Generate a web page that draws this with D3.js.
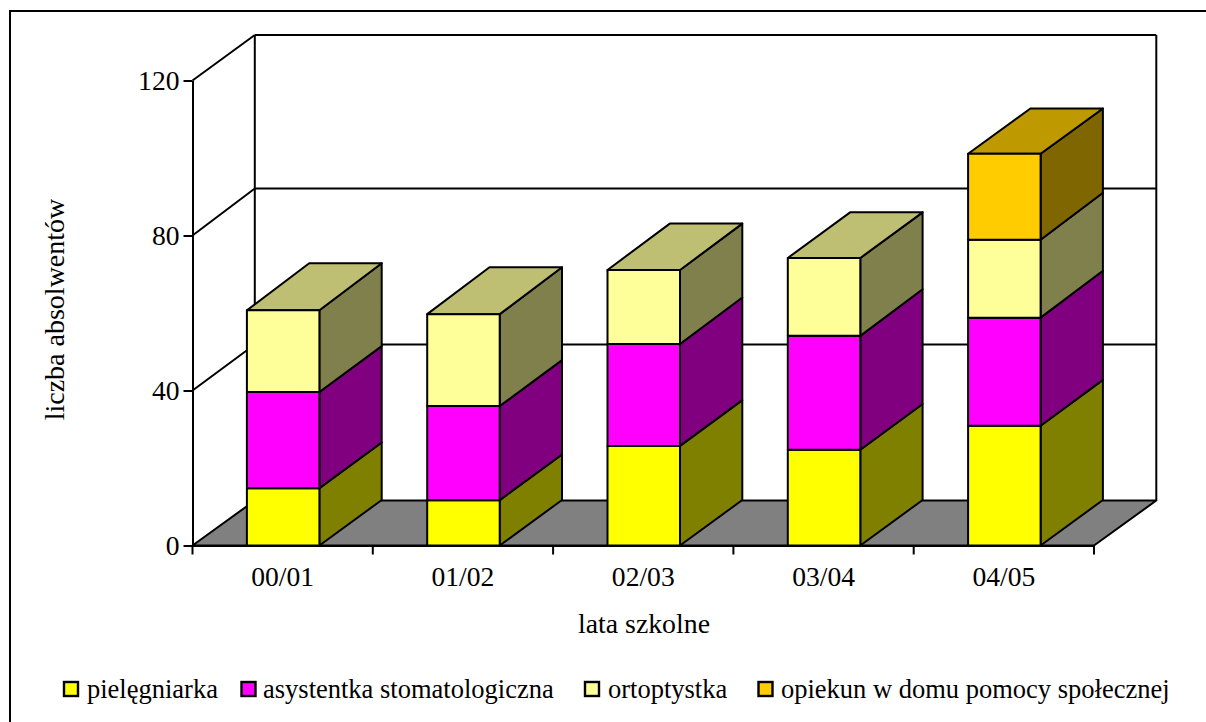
<!DOCTYPE html>
<html><head><meta charset="utf-8">
<style>html,body{margin:0;padding:0;background:#fff;overflow:hidden}svg{display:block}text{font-family:"Liberation Serif",serif;fill:#000}</style>
<script src="https://cdn.jsdelivr.net/npm/d3@7"></script></head><body>
<script>
const categories=["00/01","01/02","02/03","03/04","04/05"];
const seriesNames=["pielęgniarka","asystentka stomatologiczna","ortoptystka","opiekun w domu pomocy społecznej"];
const pielegniarka=[14.8,11.7,25.7,24.7,30.9];
const asystentka=[24.8,24.3,26.3,29.4,27.9];
const ortoptystka=[21.1,23.7,19.1,20.1,20.1];
const opiekun=[0,0,0,0,22.2];
const seriesValues=[pielegniarka,asystentka,ortoptystka,opiekun];
const frontColors=["#ffff00","#ff00ff","#ffff99","#ffcc00"];
const sideColors=["#808000","#800080","#80804d","#806600"];
const topColors=["#bfbf00","#bf00bf","#bfbf73","#bf9900"];
const yTicks=[0,40,80,120];
const W=1206,H=722,dx=62.3;
const sw=2;
const svg=d3.select("body").append("svg").attr("width",W).attr("height",H);
svg.append("rect").attr("x",10).attr("y",11).attr("width",1400).attr("height",900).attr("fill","#fff").attr("stroke","#000").attr("stroke-width",2);
const y=d3.scaleLinear().domain([0,120]).range([545.5,80.5]);
const yBack=d3.scaleLinear().domain(yTicks).range([500.5,344.5,188.5,35]);
const barDepth=d3.scaleLinear().domain([0,45,60,71,74,79,101]).range([45.5,46,47,46.4,45.6,47,45.3]);
const yBarBack=v=>y(v)-barDepth(v);
const x=d3.scaleBand().domain(categories).range([192.5,1094]);
const barW=72.5,bx=c=>x(c)+54.4;
const g=svg.append("g");
const L=(x1,y1,x2,y2,w=sw)=>g.append("line").attr("x1",x1).attr("y1",y1).attr("x2",x2).attr("y2",y2).attr("stroke","#000").attr("stroke-width",w);
const poly=(pts,fill,w=sw)=>g.append("polygon").attr("points",pts.map(p=>p.join(",")).join(" ")).attr("fill",fill).attr("stroke","#000").attr("stroke-width",w).attr("stroke-linejoin","round");
const x0=192.5,x1=1094;
L(x0+dx,yBack(120),x0+dx,yBack(0));
L(x1+dx,yBack(120),x1+dx,yBack(0));
yTicks.forEach(t=>{ if(t>0){L(x0,y(t),x0+dx,yBack(t));L(x0+dx,yBack(t),x1+dx,yBack(t));} });
poly([[x0,y(0)],[x0+dx,yBack(0)],[x1+dx,yBack(0)],[x1,y(0)]],"#808080");
categories.forEach((c,i)=>{
  let cum=0;const X=bx(c);
  const tops=seriesValues.map(s=>{const a=cum;cum+=s[i];return [a,cum];});
  let last=-1; seriesValues.forEach((s,k)=>{if(s[i]>0)last=k;});
  seriesValues.forEach((s,k)=>{
    if(!(s[i]>0))return;
    const [a,b]=tops[k];
    poly([[X+barW,y(a)],[X+barW+dx,yBarBack(a)],[X+barW+dx,yBarBack(b)],[X+barW,y(b)]],sideColors[k]);
    if(k===last)poly([[X,y(b)],[X+dx,yBarBack(b)],[X+barW+dx,yBarBack(b)],[X+barW,y(b)]],topColors[k]);
    poly([[X,y(a)],[X+barW,y(a)],[X+barW,y(b)],[X,y(b)]],frontColors[k]);
  });
});
const fs=27.6;
const ya=d3.axisLeft(y).tickValues(yTicks).tickSize(9).tickSizeOuter(0).tickPadding(4);
const yg=svg.append("g").attr("transform",`translate(${x0},0)`).call(ya);
yg.select(".domain").attr("stroke-width",sw);
yg.selectAll("line").attr("stroke-width",sw);
yg.selectAll("text").attr("font-size",fs).attr("font-family","Liberation Serif");
const xa=d3.axisBottom(x).tickSize(0).tickPadding(21);
const xg=svg.append("g").attr("transform",`translate(0,${y(0)})`).call(xa);
xg.select(".domain").attr("stroke-width",sw);
xg.selectAll("text").attr("font-size",fs).attr("font-family","Liberation Serif");
const xTickPos=categories.map(c=>x(c)).concat([x1]);
xg.selectAll(".sep").data(xTickPos).join("line").attr("class","sep").attr("x1",d=>d).attr("x2",d=>d).attr("y1",0).attr("y2",9).attr("stroke","#000").attr("stroke-width",sw);
svg.append("text").attr("x",644).attr("y",633).attr("text-anchor","middle").attr("font-size",27.8).text("lata szkolne");
svg.append("text").attr("transform","translate(64,309.5) rotate(-90)").attr("text-anchor","middle").attr("font-size",28).text("liczba absolwentów");
const legendX=[64,241.5,585,758.5],legendTextX=[87,263,608,781];
seriesNames.forEach((n,k)=>{
  svg.append("rect").attr("x",legendX[k]).attr("y",682).attr("width",14).attr("height",14).attr("fill",frontColors[k]).attr("stroke","#000").attr("stroke-width",2.4);
  svg.append("text").attr("x",legendTextX[k]).attr("y",698).attr("font-size",26.5).text(n);
});
</script></body></html>
